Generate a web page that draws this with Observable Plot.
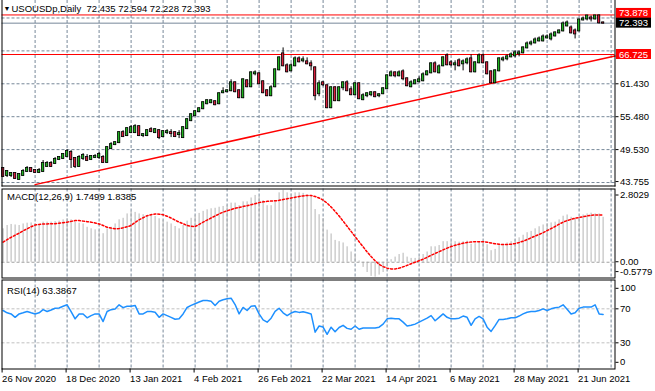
<!DOCTYPE html>
<html><head><meta charset="utf-8">
<script src="https://cdn.jsdelivr.net/npm/d3@7"></script>
<script src="https://cdn.jsdelivr.net/npm/@observablehq/plot@0.6"></script>
<style>
html,body{margin:0;padding:0;background:#fff;}
#chart{position:relative;width:655px;height:391px;overflow:hidden;background:#fff;}
#chart svg{position:absolute;left:0;}
</style></head><body><div id="chart"></div>
<script>
// ---- candles (daily bars, index 0 = 26 Nov 2020) ----
const opens = [46.11,44.84,44.84,45.20,44.12,44.84,45.56,46.11,45.74,45.38,
45.56,46.47,47.01,47.01,47.73,47.91,48.27,48.99,47.91,46.47,
47.91,48.09,47.73,48.09,48.09,48.09,47.19,49.71,50.43,50.79,
52.60,52.06,52.60,52.60,53.68,52.06,52.06,53.14,52.60,52.96,
51.88,52.60,52.60,52.60,52.24,51.70,53.32,54.76,55.66,56.38,
56.92,57.82,58.01,58.19,57.82,59.81,59.99,60.17,61.61,60.17,
58.91,61.97,60.89,63.23,63.23,61.79,60.17,59.27,60.89,63.95,
66.84,64.68,63.77,64.68,65.94,65.58,65.40,65.04,64.31,59.63,
61.61,61.07,57.10,60.71,58.37,60.71,61.61,60.35,59.45,61.43,
58.55,59.27,59.45,59.81,59.27,59.63,60.53,62.87,63.41,62.87,
63.59,62.33,60.89,61.43,61.79,61.97,63.05,63.41,65.04,63.41,
64.68,66.48,65.22,64.86,65.58,65.04,65.22,65.94,63.59,65.22,
66.48,65.22,63.59,61.61,63.77,65.76,65.94,66.30,66.48,66.84,
67.02,67.92,68.64,68.82,69.18,69.18,69.72,69.54,70.08,70.63,
70.99,71.89,71.53,70.99,70.99,72.97,73.15,73.33,73.15,73.70,
72.435];
const highs = [46.29,45.74,45.38,45.38,45.20,45.92,46.47,46.29,45.92,46.11,
47.55,47.37,47.37,48.09,48.27,48.81,49.53,49.35,48.09,48.45,
48.81,48.63,48.45,48.63,48.99,48.45,50.07,50.79,50.97,52.78,
52.96,53.50,53.86,54.04,53.86,52.42,53.14,53.50,53.32,53.14,
52.96,53.14,53.14,52.78,52.96,53.68,55.12,56.02,56.56,57.10,
58.19,58.55,58.55,58.37,59.81,60.71,60.35,62.15,61.79,60.35,
62.33,62.15,63.59,63.77,63.41,61.97,60.35,61.07,64.13,66.30,
67.92,65.04,65.04,66.30,66.30,66.30,66.12,65.58,64.50,61.97,
61.79,61.25,60.89,60.89,60.89,61.79,61.97,60.89,61.61,61.61,
59.63,59.81,59.99,59.99,59.63,60.71,63.05,63.77,63.59,63.77,
63.95,62.51,61.97,62.15,62.69,63.41,63.77,65.22,65.40,64.86,
66.30,66.84,65.58,65.58,65.94,65.76,66.12,66.66,65.40,66.84,
66.84,65.40,63.77,63.95,66.12,66.30,66.66,67.02,67.38,67.38,
68.10,69.00,69.18,69.72,69.90,70.27,70.27,70.63,70.81,71.17,
72.61,72.79,71.89,71.35,73.15,73.51,73.80,73.69,73.80,73.878,
72.594];
const lows = [44.48,44.48,44.48,44.12,43.94,44.66,45.38,45.38,45.20,45.20,
45.38,46.29,46.29,46.83,47.55,47.73,48.09,46.11,46.11,46.29,
47.55,47.37,47.55,47.91,47.73,47.01,47.01,49.53,50.25,50.61,
51.70,51.88,52.42,52.42,51.88,51.70,51.88,52.60,52.42,51.34,
51.70,52.24,51.70,51.70,51.52,51.52,53.14,54.58,55.48,56.20,
56.74,57.64,57.82,57.46,57.64,59.63,59.81,59.99,59.81,58.73,
58.73,60.71,60.71,62.87,61.25,59.63,59.09,59.09,60.71,63.77,
64.50,63.41,63.59,64.50,65.22,65.22,64.86,63.77,58.37,59.09,
60.89,56.92,56.92,58.19,58.19,60.17,59.99,59.27,59.27,58.55,
58.37,58.91,59.09,58.91,58.91,59.45,60.35,62.69,62.51,62.69,
61.97,60.89,60.71,61.25,61.61,61.79,62.87,63.23,63.41,63.23,
64.50,64.68,64.50,63.77,64.50,63.77,64.86,63.41,63.41,65.04,
65.04,63.05,61.43,61.43,63.59,65.40,65.58,66.12,66.12,66.30,
66.84,67.74,68.28,68.64,69.00,69.00,69.54,69.18,69.90,70.45,
70.81,71.71,70.45,69.54,70.81,72.79,72.79,72.61,72.97,72.25,
72.228];
const closes = [44.66,45.56,45.20,44.30,45.02,45.56,46.11,45.56,45.38,45.74,
47.01,47.01,46.47,47.73,48.09,48.63,49.17,47.73,46.47,48.09,
48.45,47.55,48.27,48.27,48.63,47.19,49.89,50.43,50.79,52.60,
51.88,53.32,53.50,53.68,52.06,52.24,52.96,52.78,53.14,51.70,
52.78,52.78,52.42,51.88,52.42,53.50,54.94,55.84,56.38,56.92,
58.01,58.37,58.37,57.64,59.63,59.99,60.17,61.61,59.99,58.91,
62.15,60.89,63.41,63.41,61.43,59.81,59.27,60.71,63.95,66.12,
64.68,63.59,64.68,65.94,65.40,65.76,65.04,64.68,59.27,61.43,
61.25,57.10,60.71,58.37,60.71,61.61,60.17,59.45,61.43,58.73,
59.27,59.63,59.81,59.09,59.45,60.53,62.87,63.41,62.87,63.41,
62.33,61.07,61.61,61.97,62.15,63.05,63.59,65.04,63.59,64.50,
66.12,64.86,64.86,65.04,64.68,65.40,65.76,63.59,65.22,66.48,
65.22,63.23,61.61,63.77,65.94,65.94,66.30,66.66,67.02,67.02,
67.92,68.64,68.82,69.36,69.54,69.90,69.90,70.27,70.63,70.99,
72.25,72.43,70.63,70.45,72.97,73.15,73.69,73.15,73.70,72.45,
72.393];

// ---- MACD(12,26,9): histogram (main line) and signal ----
const macdMain = [1.30,1.43,1.47,1.45,1.43,1.49,1.52,1.53,1.49,1.47,
1.56,1.56,1.56,1.58,1.60,1.65,1.69,1.65,1.56,1.52,
1.49,1.36,1.30,1.26,1.24,1.11,1.30,1.36,1.49,1.65,
1.71,1.88,1.98,1.94,1.88,1.85,1.81,1.81,1.78,1.69,
1.62,1.56,1.49,1.39,1.30,1.43,1.60,1.71,1.81,1.90,
1.98,2.04,2.08,2.10,2.14,2.17,2.20,2.30,2.30,2.20,
2.35,2.35,2.50,2.60,2.55,2.40,2.20,2.20,2.40,2.70,
2.80,2.70,2.65,2.70,2.70,2.68,2.62,2.55,2.05,1.85,
1.70,1.25,1.10,0.85,0.80,0.75,0.60,0.40,0.30,0.05,
-0.20,-0.40,-0.55,-0.58,-0.50,-0.40,-0.10,0.10,0.20,0.30,
0.35,0.20,0.15,0.15,0.20,0.30,0.40,0.60,0.60,0.65,
0.80,0.80,0.80,0.80,0.78,0.80,0.82,0.70,0.72,0.80,
0.80,0.68,0.45,0.50,0.65,0.70,0.75,0.80,0.88,0.95,
1.05,1.15,1.20,1.30,1.38,1.45,1.49,1.53,1.56,1.65,
1.79,1.84,1.75,1.71,1.72,1.84,1.88,1.91,1.88,1.88,
1.7499];
const macdSignal = [0.78,0.88,0.97,1.05,1.13,1.22,1.30,1.38,1.45,1.47,
1.49,1.49,1.50,1.50,1.52,1.54,1.56,1.59,1.62,1.62,
1.60,1.58,1.56,1.53,1.49,1.43,1.36,1.33,1.30,1.31,
1.34,1.38,1.43,1.55,1.65,1.73,1.81,1.85,1.88,1.87,
1.85,1.79,1.72,1.64,1.56,1.50,1.43,1.40,1.39,1.47,
1.56,1.64,1.72,1.80,1.88,1.95,2.00,2.05,2.10,2.13,
2.17,2.20,2.24,2.28,2.32,2.35,2.37,2.38,2.39,2.41,
2.44,2.47,2.50,2.53,2.56,2.58,2.60,2.60,2.56,2.50,
2.42,2.30,2.15,1.98,1.80,1.60,1.40,1.20,1.00,0.80,
0.60,0.40,0.22,0.06,-0.08,-0.17,-0.23,-0.26,-0.26,-0.23,
-0.18,-0.12,-0.06,0.00,0.06,0.12,0.19,0.27,0.34,0.41,
0.48,0.55,0.61,0.66,0.70,0.74,0.77,0.79,0.80,0.80,
0.80,0.78,0.75,0.72,0.70,0.69,0.69,0.70,0.73,0.77,
0.82,0.88,0.95,1.02,1.08,1.15,1.23,1.31,1.39,1.48,
1.56,1.62,1.67,1.71,1.74,1.77,1.80,1.83,1.84,1.84,
1.8385];

// ---- RSI(14) ----
const rsiValues = [68,65.3,64,60,64,65.3,66.8,65.3,64,65.3,
69,66.8,68.6,70.7,71,73,74.7,66.8,58.2,64,
64,59.4,62,64,64,55,66.8,69,69.8,74.7,
71.4,73,73,74,64,64,66.8,66.8,66,60,
64,62,60,57.7,58.2,64,71.6,74,76,78,
79.8,79.8,79,74,79,80.6,81.8,82.5,75,64,
71.6,68,73,73.5,64,57,54.3,59,67,70.7,
65.3,62,65,66.8,65.8,66.5,65.3,64,42.5,49.8,
48.5,40,48.4,43,48,50.6,47,46,49.8,46,
47.5,47.5,47.5,47.5,48.4,52,58.2,59,58.2,58.2,
54.3,49.8,50.6,52,54.3,56.7,59,62,56,60,
64,60,58.2,58.2,59,61.5,60,50.6,58.2,61,
58.2,48.4,43.4,50.2,57.5,57.5,58.2,59.4,59.4,61.5,
64,66,66.8,66.8,68,70,68,70,71.2,72,
74.7,69.4,64,65.3,70.7,72,72,72,74.7,64,
63.3867];

// ---- levels, ticks and labels ----
const priceGrid = [43.58, 49.53, 55.48, 61.43, 67.38, 73.33];
const priceTicks = [43.755, 49.53, 55.48, 61.43];
const bidPrice = 72.393;
const redLevels = [73.878, 66.725];
const tagHigh = {v: 73.878, bg: "#ff0000"};
const tagBid = {v: 72.393, bg: "#000000"};
const tagSupport = {v: 66.725, bg: "#ff0000"};
const trendAnchors = [{i: 8, p: 43.2}, {i: 104, p: 58.6}];
const macdTickValues = [2.8029, 0, -0.5779];
const macdTickLabels = ["2.8029", "0.00", "-0.5779"];
const rsiLevels = [70, 30];
const dateBars = [0, 16, 32, 48, 64, 80, 96, 112, 128, 144];
const dateLabels = ["26 Nov 2020", "18 Dec 2020", "13 Jan 2021", "4 Feb 2021", "26 Feb 2021",
  "22 Mar 2021", "14 Apr 2021", "6 May 2021", "28 May 2021", "21 Jun 2021"];
const gridBars = [8,16,24,32,40,48,56,64,72,80,88,96,104,112,120,128,136,144,152];
const titleText = "USOUSDp,Daily  72.435 72.594 72.228 72.393";
const macdText = "MACD(12,26,9) 1.7499 1.8385";
const rsiText = "RSI(14) 63.3867";

// ---- build ----
const W = 655;
const xDomain = [-0.275, 152.975];
const GRID = "#778899", GREEN = "#1fb21f", RED = "#d81e3c";
const FONT = "'Liberation Sans', Arial, sans-serif";
const baseStyle = {fontFamily: FONT, fontSize: "9.5px", color: "black", background: "transparent", overflow: "visible"};
const bars = closes.map((c, i) => ({i, o: opens[i], h: highs[i], l: lows[i], c}));
const macdRows = macdMain.map((m, i) => ({i, m, s: macdSignal[i]}));
const rsiRows = rsiValues.map((v, i) => ({i, v}));
const slope = (trendAnchors[1].p - trendAnchors[0].p) / (trendAnchors[1].i - trendAnchors[0].i);
const trendLine = [trendAnchors[0], {i: xDomain[1], p: trendAnchors[0].p + slope * (xDomain[1] - trendAnchors[0].i)}];
const dateMap = new Map(dateBars.map((b, k) => [b, dateLabels[k]]));
const macdMap = new Map(macdTickValues.map((v, k) => [v, macdTickLabels[k]]));
const dash = "3,2";
const common = {width: W, marginLeft: 1.5, marginRight: 40.5, style: baseStyle};
const ax = {anchor: "right", tickSize: 3, tickPadding: 2, label: null};
const tagText = (t, dy) => Plot.text([t], {y: "v", text: d => d.v.toFixed(3), frameAnchor: "right", dx: 4, dy, textAnchor: "start", fill: "white"});

const main = Plot.plot({
  ...common, height: 187, marginTop: 0, marginBottom: 1.5,
  x: {domain: xDomain, axis: null},
  y: {domain: [42.95, 76.49], axis: null},
  marks: [
    Plot.ruleY(priceGrid, {stroke: GRID, strokeDasharray: dash}),
    Plot.ruleX(gridBars, {stroke: GRID, strokeDasharray: dash}),
    Plot.ruleY([bidPrice], {stroke: GRID}),
    Plot.ruleY(redLevels, {stroke: "#ff0000"}),
    Plot.line(trendLine, {x: "i", y: "p", stroke: "#ff0000"}),
    Plot.ruleX(bars, {x: "i", y1: "l", y2: "h", stroke: "black"}),
    Plot.rect(bars, {x1: d => d.i - 0.3, x2: d => d.i + 0.3, y1: "o", y2: "c",
      fill: d => d.c >= d.o ? GREEN : RED, stroke: "black", strokeWidth: 0.8, insetTop: -0.5, insetBottom: -0.5}),
    Plot.axisY({...ax, ticks: priceTicks, tickFormat: d => d.toFixed(3)}),
    tagText(tagHigh, -1.5),
    tagText(tagBid, 0),
    tagText(tagSupport, 0),
    Plot.frame({anchor: "left"}),
    Plot.frame({anchor: "right"}),
    Plot.frame({anchor: "bottom"}),
    Plot.text(["▼"], {frameAnchor: "top-left", dx: 1.5, dy: 5.5, fontSize: 7}),
    Plot.text([titleText], {frameAnchor: "top-left", dx: 9.5, dy: 5})
  ]
});
main.style.top = "0px";
{
  const ys = main.scale("y");
  const svg = d3.select(main);
  [[tagHigh, -1.5], [tagBid, 0], [tagSupport, 0]].forEach(([t, dy]) => {
    svg.insert("rect", "g").attr("x", 616).attr("y", ys.apply(t.v) + dy - 5)
      .attr("width", 35).attr("height", 10).attr("fill", t.bg);
  });
}

const macd = Plot.plot({
  ...common, height: 91, marginTop: 1.5, marginBottom: 0.5,
  x: {domain: xDomain, axis: null},
  y: {domain: [-0.613, 2.85], axis: null},
  marks: [
    Plot.ruleX(gridBars, {stroke: GRID, strokeDasharray: dash}),
    Plot.ruleX(macdRows, {x: "i", y1: 0, y2: "m", stroke: "#b4b4b4"}),
    Plot.ruleY([0], {stroke: "#a0a0a0", strokeDasharray: dash}),
    Plot.line(macdRows, {x: "i", y: "s", stroke: "#ff0000", strokeDasharray: "2,2"}),
    Plot.axisY({...ax, ticks: [macdTickValues[0]], tickFormat: d => macdMap.get(d), dy: 4.8}),
    Plot.axisY({...ax, ticks: [macdTickValues[1]], tickFormat: d => macdMap.get(d), dy: -0.5}),
    Plot.axisY({...ax, ticks: [macdTickValues[2]], tickFormat: d => macdMap.get(d), dy: -5.5}),
    Plot.frame({stroke: "black"}),
    Plot.text([macdText], {frameAnchor: "top-left", dx: 5, dy: 4.5})
  ]
});
macd.style.top = "187px";

const rsi = Plot.plot({
  ...common, height: 113, marginTop: 1.5, marginBottom: 22.5,
  x: {domain: xDomain, axis: null},
  y: {domain: [-0.8, 103.9], axis: null},
  marks: [
    Plot.ruleX(gridBars, {stroke: GRID, strokeDasharray: dash}),
    Plot.ruleY(rsiLevels, {stroke: "#c0c0c0", strokeDasharray: dash}),
    Plot.line(rsiRows, {x: "i", y: "v", stroke: "#1e90ff"}),
    Plot.axisY({...ax, ticks: rsiLevels}),
    Plot.axisY({...ax, ticks: [100], dy: 5}),
    Plot.axisY({...ax, ticks: [0], dy: -6}),
    Plot.axisX({ticks: dateBars, tickFormat: d => dateMap.get(d), textAnchor: "start", tickSize: 4, tickPadding: 2, dx: -1, label: null}),
    Plot.frame({stroke: "black"}),
    Plot.text([rsiText], {frameAnchor: "top-left", dx: 5, dy: 7.5})
  ]
});
rsi.style.top = "278px";

const root = document.getElementById("chart");
root.append(main, macd, rsi);
</script></body></html>
